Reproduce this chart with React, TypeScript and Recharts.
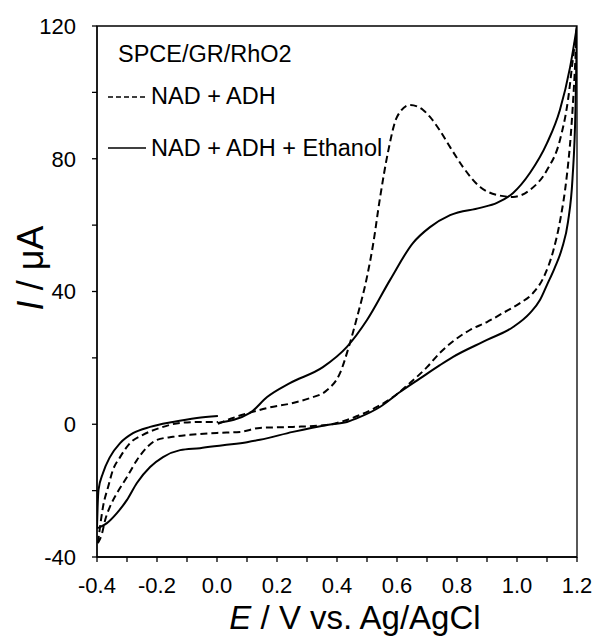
import React from "react";
import { LineChart, Line, XAxis, YAxis, ReferenceArea } from "recharts";

// E (V vs Ag/AgCl), I (µA); each sweep split into x-ascending pieces
const dashedForward: [number, number][] = [
  [0.003, 0.1], [0.053, 1.9], [0.11, 3.5], [0.167, 4.9], [0.253, 6.4], [0.31, 7.9],
  [0.367, 10.3], [0.41, 15.4], [0.44, 23.5], [0.467, 32.3], [0.5, 44.4], [0.52, 54],
  [0.543, 68], [0.57, 82], [0.6, 92.6], [0.643, 96.2], [0.687, 94.7], [0.71, 92.6],
  [0.743, 88.5], [0.777, 83.5], [0.82, 77.5], [0.877, 71.5], [0.933, 69.1], [0.987, 68.5],
  [1.043, 70.6], [1.1, 76.6], [1.143, 85.6], [1.17, 97.7], [1.187, 110.6], [1.2, 120],
];
const dashedReverse: [number, number][] = [
  [-0.397, -35.8], [-0.383, -32.8], [-0.373, -28.9], [-0.357, -24.9], [-0.333, -20.7],
  [-0.3, -15.9], [-0.267, -10.8], [-0.233, -6.9], [-0.2, -4.7], [-0.147, -3.8], [-0.09, -3.2],
  [0.0, -2.6], [0.077, -2.3], [0.143, -1.1], [0.253, -0.8], [0.367, -0.2], [0.433, 1.3],
  [0.477, 2.8], [0.533, 5.2], [0.587, 8.2], [0.643, 12.4], [0.7, 17.2], [0.743, 21.5],
  [0.787, 25.0], [0.843, 28.4], [0.9, 30.8], [0.953, 33.5], [1.01, 36.5], [1.053, 39.5],
  [1.09, 44.5], [1.12, 52], [1.145, 62], [1.165, 74], [1.18, 88], [1.19, 102], [1.2, 120],
];
const dashedReturn: [number, number][] = [
  [-0.397, -35.8], [-0.39, -31], [-0.38, -24.9], [-0.363, -18.9], [-0.347, -13.8],
  [-0.323, -9.9], [-0.29, -5.7], [-0.247, -3.2], [-0.19, -1.1], [-0.123, 0.4], [-0.057, 0.7],
  [0.003, 0.7],
];
const solidForward: [number, number][] = [
  [0.003, 0.4], [0.11, 3.4], [0.167, 8.2], [0.243, 12.4], [0.353, 17.2], [0.433, 23.3],
  [0.5, 31.4], [0.577, 43.5], [0.653, 54.6], [0.71, 59.4], [0.777, 63], [0.877, 65.2],
  [0.933, 66.7], [0.987, 69.7], [1.043, 75.7], [1.1, 84.7], [1.143, 94.7], [1.177, 107.6],
  [1.2, 120],
];
const solidReverse: [number, number][] = [
  [-0.4, -31.3], [-0.39, -31], [-0.367, -29.8], [-0.333, -26.7], [-0.3, -22.8],
  [-0.267, -17.7], [-0.223, -12.9], [-0.18, -9.9], [-0.123, -7.8], [-0.057, -7.2],
  [0.02, -6.3], [0.1, -5.4], [0.143, -4.7], [0.253, -2.3], [0.367, -0.2], [0.433, 0.7],
  [0.477, 2.2], [0.543, 5.2], [0.61, 9.7], [0.677, 13.8], [0.743, 17.8], [0.787, 20.3],
  [0.9, 25.4], [0.987, 29.3], [1.043, 33.5], [1.077, 37.5], [1.1, 42], [1.125, 47],
  [1.15, 53], [1.17, 61], [1.185, 74], [1.195, 95], [1.2, 120],
];
const solidReturn: [number, number][] = [
  [-0.4, -31], [-0.398, -25], [-0.395, -19.8], [-0.38, -14.7], [-0.357, -9.9],
  [-0.323, -5.7], [-0.28, -2.7], [-0.223, -0.8], [-0.147, 0.7], [-0.067, 1.9], [0.003, 2.5],
];

const xTicks = [-0.4, -0.3, -0.2, -0.1, 0, 0.1, 0.2, 0.3, 0.4, 0.5, 0.6, 0.7, 0.8, 0.9, 1.0, 1.1, 1.2];
const yTicks = [-40, -20, 0, 20, 40, 60, 80, 100, 120];

const legendTitle = "SPCE/GR/RhO2";
const dashedName = "NAD + ADH";
const solidName = "NAD + ADH + Ethanol";

const FONT = "'Liberation Sans', Arial, sans-serif";

const toPts = (arr: [number, number][]) => arr.map(([e, i]) => ({ e, i }));

const pieces = [
  { key: "dF", data: dashedForward, dash: "7 4" },
  { key: "dR", data: dashedReverse, dash: "7 4" },
  { key: "dB", data: dashedReturn, dash: "7 4" },
  { key: "sF", data: solidForward, dash: undefined },
  { key: "sR", data: solidReverse, dash: undefined },
  { key: "sB", data: solidReturn, dash: undefined },
];

const fmtX = (v: number) => (Math.round(v * 10) % 2 === 0 ? v.toFixed(1) : "");
const fmtY = (v: number) => (v % 40 === 0 ? String(v) : "");

export default function App() {
  return (
    <div style={{ position: "absolute", left: 0, top: 0, width: 596, height: 637, background: "#fff" }}>
      <LineChart width={596} height={637} margin={{ top: 26, right: 19, left: 37, bottom: 20 }}>
        <XAxis
          type="number"
          dataKey="e"
          domain={[-0.4, 1.2]}
          ticks={xTicks}
          tickFormatter={fmtX}
          allowDataOverflow
          interval={0}
          height={60}
          tickSize={5}
          tickMargin={15}
          axisLine={{ stroke: "#000", strokeWidth: 1.3 }}
          tickLine={{ stroke: "#000", strokeWidth: 1.3 }}
          tick={{ fill: "#000", fontSize: 22, fontFamily: FONT }}
          label={{
            content: () => (
              <text x={355} y={629} textAnchor="middle" fontSize={33} fontFamily={FONT} fill="#000">
                <tspan fontStyle="italic">E</tspan> / V vs. Ag/AgCl
              </text>
            ),
          }}
        />
        <YAxis
          type="number"
          dataKey="i"
          domain={[-40, 120]}
          ticks={yTicks}
          tickFormatter={fmtY}
          allowDataOverflow
          interval={0}
          width={60}
          tickSize={5}
          tickMargin={16}
          axisLine={{ stroke: "#000", strokeWidth: 1.3 }}
          tickLine={{ stroke: "#000", strokeWidth: 1.3 }}
          tick={{ fill: "#000", fontSize: 22, fontFamily: FONT }}
          label={{
            content: () => (
              <text
                x={30}
                y={268}
                transform="rotate(-90, 30, 268)"
                textAnchor="middle"
                dominantBaseline="central"
                fontSize={36}
                fontFamily={FONT}
                fill="#000"
              >
                <tspan fontStyle="italic">I</tspan> / μA
              </text>
            ),
          }}
        />
        <ReferenceArea
          x1={-0.4}
          x2={1.2}
          y1={-40}
          y2={120}
          fill="none"
          stroke="#000"
          strokeWidth={1.3}
          ifOverflow="visible"
        />
        {pieces.map((p) => (
          <Line
            key={p.key}
            data={toPts(p.data)}
            dataKey="i"
            type="monotone"
            stroke="#000"
            strokeWidth={2}
            strokeDasharray={p.dash}
            dot={false}
            activeDot={false}
            isAnimationActive={false}
          />
        ))}
      </LineChart>
      <svg
        width={596}
        height={637}
        style={{ position: "absolute", left: 0, top: 0, pointerEvents: "none" }}
      >
        <g fontFamily={FONT} fill="#000" fontSize={23.5}>
          <text x={118} y={62}>{legendTitle}</text>
          <line x1={108} y1={97} x2={146} y2={97} stroke="#000" strokeWidth={1.6} strokeDasharray="5 3" />
          <text x={151} y={104}>{dashedName}</text>
          <line x1={108} y1={148} x2={146} y2={148} stroke="#000" strokeWidth={1.6} />
          <text x={151} y={156}>{solidName}</text>
        </g>
      </svg>
    </div>
  );
}
